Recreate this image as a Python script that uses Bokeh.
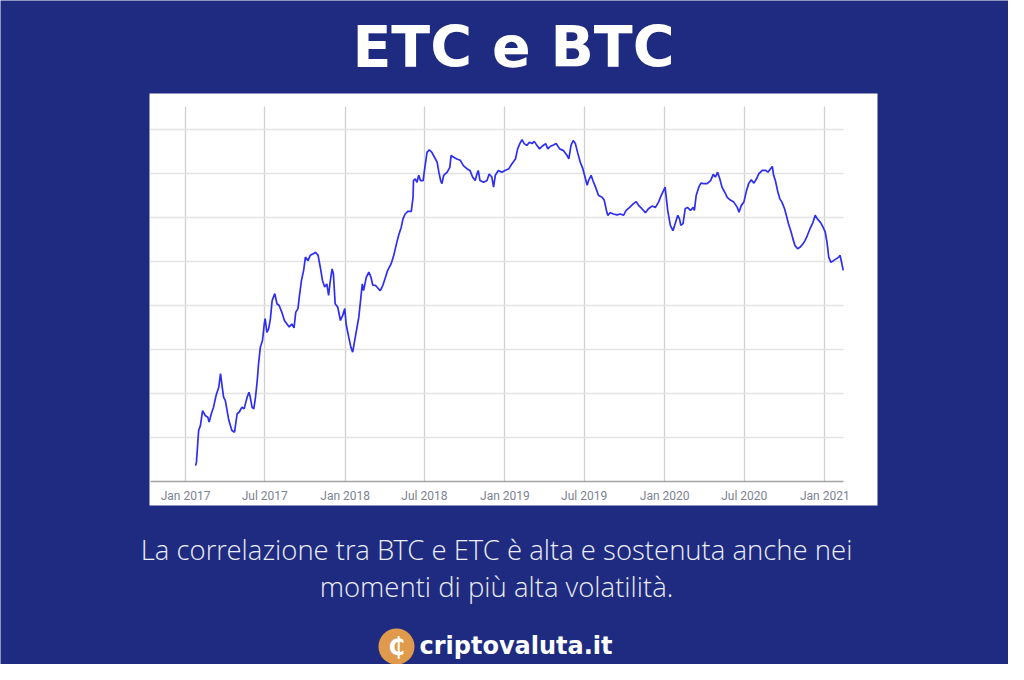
import pandas as pd
from bokeh.plotting import figure
from bokeh.models import (Label, MonthsTicker, FixedTicker, DatetimeTickFormatter,
                          Range1d, ColumnDataSource, BoxAnnotation)
from bokeh.embed import file_html
from bokeh.resources import INLINE

# ---------------- data ----------------
dates = [
    "2017-01-24", "2017-01-26", "2017-01-31", "2017-02-04", "2017-02-09", "2017-02-15",
    "2017-02-21", "2017-02-24", "2017-03-01", "2017-03-06", "2017-03-12", "2017-03-18",
    "2017-03-22", "2017-03-26", "2017-03-29", "2017-04-02", "2017-04-10", "2017-04-17",
    "2017-04-23", "2017-04-29", "2017-05-04", "2017-05-10", "2017-05-15", "2017-05-18",
    "2017-05-22", "2017-05-26", "2017-05-29", "2017-06-02", "2017-06-06", "2017-06-10",
    "2017-06-14", "2017-06-17", "2017-06-21", "2017-06-26", "2017-06-30", "2017-07-02",
    "2017-07-06", "2017-07-10", "2017-07-14", "2017-07-18", "2017-07-24", "2017-07-29",
    "2017-08-03", "2017-08-09", "2017-08-15", "2017-08-21", "2017-08-26", "2017-09-01",
    "2017-09-06", "2017-09-10", "2017-09-15", "2017-09-18", "2017-09-23", "2017-09-28",
    "2017-10-02", "2017-10-08", "2017-10-13", "2017-10-21", "2017-10-25", "2017-10-31",
    "2017-11-05", "2017-11-10", "2017-11-15", "2017-11-20", "2017-11-24", "2017-11-28",
    "2017-12-02", "2017-12-05", "2017-12-09", "2017-12-15", "2017-12-21", "2017-12-26",
    "2017-12-31", "2018-01-03", "2018-01-09", "2018-01-14", "2018-01-18", "2018-01-24",
    "2018-02-01", "2018-02-09", "2018-02-12", "2018-02-18", "2018-02-24", "2018-03-01",
    "2018-03-05", "2018-03-11", "2018-03-18", "2018-03-22", "2018-03-28", "2018-04-03",
    "2018-04-08", "2018-04-16", "2018-04-22", "2018-04-28", "2018-05-03", "2018-05-09",
    "2018-05-13", "2018-05-18", "2018-05-24", "2018-06-01", "2018-06-05", "2018-06-06",
    "2018-06-10", "2018-06-14", "2018-06-18", "2018-06-22", "2018-06-28", "2018-07-02",
    "2018-07-07", "2018-07-12", "2018-07-18", "2018-07-24", "2018-07-30", "2018-08-03",
    "2018-08-07", "2018-08-10", "2018-08-14", "2018-08-22", "2018-08-28", "2018-08-31",
    "2018-09-06", "2018-09-13", "2018-09-21", "2018-09-28", "2018-10-06", "2018-10-13",
    "2018-10-19", "2018-10-25", "2018-10-29", "2018-11-01", "2018-11-05", "2018-11-13",
    "2018-11-21", "2018-11-26", "2018-12-02", "2018-12-06", "2018-12-10", "2018-12-17",
    "2018-12-25", "2019-01-01", "2019-01-10", "2019-01-17", "2019-01-25", "2019-01-30",
    "2019-02-04", "2019-02-09", "2019-02-14", "2019-02-20", "2019-02-26", "2019-03-04",
    "2019-03-09", "2019-03-15", "2019-03-21", "2019-03-27", "2019-04-04", "2019-04-09",
    "2019-04-15", "2019-04-22", "2019-04-28", "2019-05-06", "2019-05-15", "2019-05-23",
    "2019-05-27", "2019-06-01", "2019-06-06", "2019-06-11", "2019-06-16", "2019-06-22",
    "2019-06-28", "2019-07-04", "2019-07-08", "2019-07-11", "2019-07-17", "2019-07-21",
    "2019-07-27", "2019-08-03", "2019-08-11", "2019-08-16", "2019-08-21", "2019-08-24",
    "2019-08-30", "2019-09-06", "2019-09-14", "2019-09-22", "2019-09-29", "2019-10-05",
    "2019-10-13", "2019-10-21", "2019-10-28", "2019-11-03", "2019-11-10", "2019-11-18",
    "2019-11-25", "2019-12-03", "2019-12-11", "2019-12-18", "2019-12-24", "2019-12-28",
    "2020-01-02", "2020-01-08", "2020-01-14", "2020-01-20", "2020-01-25", "2020-01-31",
    "2020-02-04", "2020-02-07", "2020-02-12", "2020-02-17", "2020-02-22", "2020-02-29",
    "2020-03-06", "2020-03-09", "2020-03-13", "2020-03-19", "2020-03-24", "2020-03-30",
    "2020-04-07", "2020-04-15", "2020-04-21", "2020-04-26", "2020-05-01", "2020-05-06",
    "2020-05-11", "2020-05-17", "2020-05-23", "2020-05-31", "2020-06-07", "2020-06-15",
    "2020-06-19", "2020-06-24", "2020-06-30", "2020-07-06", "2020-07-11", "2020-07-17",
    "2020-07-23", "2020-07-29", "2020-08-03", "2020-08-11", "2020-08-19", "2020-08-24",
    "2020-08-30", "2020-09-03", "2020-09-06", "2020-09-10", "2020-09-15", "2020-09-20",
    "2020-09-25", "2020-10-01", "2020-10-05", "2020-10-10", "2020-10-16", "2020-10-20",
    "2020-10-25", "2020-10-31", "2020-11-06", "2020-11-12", "2020-11-17", "2020-11-22",
    "2020-11-28", "2020-12-05", "2020-12-10", "2020-12-15", "2020-12-22", "2020-12-28",
    "2021-01-02", "2021-01-06", "2021-01-10", "2021-01-15", "2021-01-21", "2021-01-27",
    "2021-02-02", "2021-02-05", "2021-02-09", "2021-02-12",
]
values = [
    0.36, 0.44, 1.16, 1.27, 1.61, 1.50,
    1.46, 1.35, 1.54, 1.69, 1.96, 2.14,
    2.45, 2.14, 1.92, 1.84, 1.39, 1.16,
    1.12, 1.54, 1.58, 1.69, 1.65, 1.77,
    1.92, 2.03, 1.92, 1.69, 1.65, 1.92,
    2.30, 2.68, 3.05, 3.21, 3.58, 3.70,
    3.39, 3.47, 3.70, 4.11, 4.27, 4.04,
    4.00, 3.85, 3.66, 3.58, 3.51, 3.58,
    3.49, 3.85, 3.93, 4.19, 4.57, 4.80,
    5.10, 5.02, 5.14, 5.18, 5.21, 5.14,
    4.87, 4.57, 4.42, 4.49, 4.23, 4.57,
    4.83, 4.72, 4.04, 3.96, 3.66, 3.77,
    3.93, 3.58, 3.28, 3.05, 2.94, 3.28,
    3.73, 4.49, 4.34, 4.64, 4.76, 4.64,
    4.46, 4.46, 4.38, 4.34, 4.46, 4.64,
    4.80, 4.95, 5.14, 5.40, 5.59, 5.78,
    5.97, 6.08, 6.14, 6.14, 6.46, 6.84,
    6.88, 6.80, 6.96, 6.84, 6.84, 7.14,
    7.48, 7.54, 7.48, 7.37, 7.26, 7.03,
    6.84, 6.77, 6.96, 7.03, 7.14, 7.41,
    7.37, 7.33, 7.30, 7.18, 7.11, 7.07,
    6.92, 6.84, 6.99, 7.07, 6.84, 6.80,
    6.84, 6.99, 6.92, 6.69, 6.96, 7.07,
    7.03, 7.07, 7.11, 7.22, 7.33, 7.56,
    7.68, 7.77, 7.68, 7.64, 7.71, 7.68,
    7.73, 7.64, 7.56, 7.62, 7.68, 7.56,
    7.62, 7.65, 7.68, 7.56, 7.52, 7.41,
    7.33, 7.64, 7.75, 7.68, 7.48, 7.26,
    7.11, 6.88, 6.73, 6.84, 6.96, 6.84,
    6.69, 6.50, 6.46, 6.39, 6.16, 6.05,
    6.11, 6.08, 6.06, 6.08, 6.05, 6.16,
    6.23, 6.31, 6.36, 6.27, 6.20, 6.11,
    6.20, 6.26, 6.23, 6.35, 6.50, 6.58,
    6.69, 6.16, 5.82, 5.70, 5.86, 6.05,
    5.97, 5.82, 5.86, 6.20, 6.23, 6.16,
    6.23, 6.16, 6.50, 6.69, 6.78, 6.77,
    6.77, 6.84, 6.98, 6.92, 7.03, 6.88,
    6.69, 6.58, 6.46, 6.39, 6.35, 6.23,
    6.12, 6.27, 6.35, 6.61, 6.77, 6.86,
    6.78, 6.88, 6.99, 7.07, 7.07, 7.03,
    7.11, 7.16, 6.96, 6.84, 6.61, 6.43,
    6.35, 6.20, 6.05, 5.86, 5.67, 5.52,
    5.36, 5.29, 5.33, 5.40, 5.48, 5.59,
    5.74, 5.89, 6.05, 5.97, 5.89, 5.78,
    5.67, 5.44, 5.10, 4.98, 5.02, 5.06,
    5.10, 5.14, 4.95, 4.80,
]
grid_levels = [1, 2, 3, 4, 5, 6, 7, 8]
title_text = "ETC e BTC"
caption_lines = [
    "La correlazione tra BTC e ETC è alta e sostenuta anche nei",
    "momenti di più alta volatilità.",
]
brand_text = "criptovaluta.it"
coin_symbol = "₵"

# ---------------- styling ----------------
NAVY = "#1e2b80"
LINE = "#2e2ef2"
ORANGE = "#e09a4c"
T0 = pd.Timestamp("2017-01-01")


def day(n):
    return T0 + pd.Timedelta(days=n)


def ms(t):
    return pd.Timestamp(t).value / 1e6


src = ColumnDataSource(dict(x=pd.to_datetime(dates), y=values))

# the frame covers the whole canvas; the white chart panel is a box in data space
p = figure(
    width=1008, height=664, x_axis_type="datetime",
    output_backend="svg", toolbar_location=None,
    x_range=Range1d(day(-422.8), day(1880.8)),
    y_range=Range1d(-4.159, 10.932),
    min_border=0, min_border_left=0, min_border_right=0,
    min_border_top=0, min_border_bottom=0,
    background_fill_color=NAVY, border_fill_color=NAVY,
    outline_line_color=None,
)

panel = BoxAnnotation(left=ms(day(-82.3)), right=ms(day(1581.4)),
                      bottom=-0.545, top=8.818,
                      fill_color="white", fill_alpha=1.0, line_color=None,
                      level="image")
p.add_layout(panel)

p.line("x", "y", source=src, line_color=LINE, line_width=1.7)

data_start = ms(day(-80))
data_end = ms(day(1503.6))

p.yaxis.visible = False
xa = p.xaxis[0]
xa.ticker = MonthsTicker(months=[0, 6])
xa.formatter = DatetimeTickFormatter(months="%b %Y", years="%b %Y", days="%b %Y")
xa.fixed_location = 0
xa.bounds = (data_start, data_end)
xa.axis_line_color = "#a3a3a3"
xa.axis_line_width = 1.6
xa.major_tick_line_color = None
xa.minor_tick_line_color = None
xa.major_tick_in = 0
xa.major_tick_out = 0
xa.major_label_standoff = 7
xa.major_label_text_font = "Roboto"
xa.major_label_text_font_size = "12px"
xa.major_label_text_color = "#7d8290"

p.xgrid.ticker = MonthsTicker(months=[0, 6])
p.xgrid.bounds = (data_start, data_end)
p.xgrid.cross_bounds = (0, 8.52)
p.xgrid.grid_line_color = "#d0d0d0"
p.xgrid.grid_line_width = 1.3
p.ygrid.ticker = FixedTicker(ticks=grid_levels)
p.ygrid.cross_bounds = (data_start, data_end)
p.ygrid.grid_line_color = "#e3e3e3"
p.ygrid.grid_line_width = 1.3

# ---------------- texts (canvas units, origin top-left) ----------------
p.add_layout(Label(x=513, y=46, x_units="canvas", y_units="canvas", text=title_text,
                   text_align="center", text_baseline="alphabetic",
                   text_font="DejaVu Sans", text_font_style="bold",
                   text_font_size="57px", text_color="white"))
for i, line in enumerate(caption_lines):
    p.add_layout(Label(x=496, y=549 + 37 * i, x_units="canvas", y_units="canvas",
                       text=line, text_align="center", text_baseline="alphabetic",
                       text_font="Open Sans Light", text_font_size="27.5px",
                       text_color="#eceef6"))

p.add_layout(BoxAnnotation(left=378, right=414, top=628, bottom=664,
                           left_units="canvas", right_units="canvas",
                           top_units="canvas", bottom_units="canvas",
                           fill_color=ORANGE, fill_alpha=1.0, line_color=None,
                           border_radius=18))
p.add_layout(Label(x=396, y=646, x_units="canvas", y_units="canvas", text=coin_symbol,
                   text_align="center", text_baseline="middle",
                   text_font="DejaVu Sans", text_font_style="bold",
                   text_font_size="24px", text_color="white"))
p.add_layout(Label(x=419, y=645, x_units="canvas", y_units="canvas", text=brand_text,
                   text_align="left", text_baseline="alphabetic",
                   text_font="DejaVu Sans", text_font_style="bold",
                   text_font_size="24px", text_color="white"))

open("out.html", "w").write(file_html(p, INLINE))
